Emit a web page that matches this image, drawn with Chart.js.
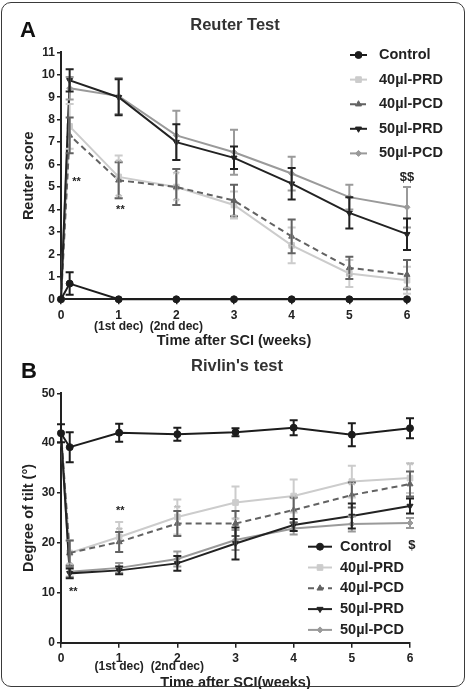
<!DOCTYPE html>
<html>
<head>
<meta charset="utf-8">
<script src="https://cdn.jsdelivr.net/npm/chart.js@4.4.1/dist/chart.umd.min.js"></script>
<style>
  html, body { margin: 0; padding: 0; background: #fff; }
  #fig { position: relative; width: 467px; height: 689px; overflow: hidden; background: #fff; }
  #fig canvas { position: absolute; left: 0; }
  #chartA { top: 0; }
  #chartB { top: 340px; }
  #frame { position: absolute; left: 1px; top: 2px; width: 462px; height: 683px;
           border: 1.5px solid #3a3a3a; border-radius: 10px; pointer-events: none; }
</style>
</head>
<body>
<div id="fig">
  <canvas id="chartA" width="467" height="350"></canvas>
  <canvas id="chartB" width="467" height="352"></canvas>
  <div id="frame"></div>
</div>
<script>
// 横軸 (週)。0.15 は損傷直後の測定
const weeks = [0, 0.15, 1, 2, 3, 4, 5, 6];
const groups = ['Control', '40µl-PRD', '40µl-PCD', '50µl-PRD', '50µl-PCD'];
const weekTicks = [0, 1, 2, 3, 4, 5, 6];
const weekNotes = ['', '(1st dec)', '(2nd dec)', '', '', '', ''];

// A: Reuter score (平均 / 誤差)
const reuterControl    = [0, 0.7, 0, 0, 0, 0, 0, 0];
const reuterControlErr = [0, 0.5, 0, 0, 0, 0, 0, 0];
const reuter40PRD      = [0, 7.7, 5.45, 5.0, 4.2, 2.4, 1.15, 0.85];
const reuter40PRDErr   = [0, 1.0, 0.95, 0.8, 0.6, 0.8, 0.6, 0.6];
const reuter40PCD      = [0, 7.3, 5.3, 5.0, 4.4, 2.8, 1.4, 1.1];
const reuter40PCDErr   = [0, 0.8, 0.8, 0.8, 0.7, 0.75, 0.5, 0.65];
const reuter50PRD      = [0, 9.75, 9.0, 7.0, 6.3, 5.15, 3.85, 2.9];
const reuter50PRDErr   = [0, 0.5, 0.8, 0.8, 0.5, 0.7, 0.7, 0.7];
const reuter50PCD      = [0, 9.4, 9.05, 7.3, 6.55, 5.6, 4.55, 4.1];
const reuter50PCDErr   = [0, 0.5, 0.8, 1.1, 1.0, 0.75, 0.55, 0.9];
const reuterTicks = [0, 11, 1];

// B: Rivlin's test (傾斜角)
const rivlinControl    = [42, 39.2, 42.1, 41.8, 42.2, 43.1, 41.7, 43.0];
const rivlinControlErr = [1.8, 3.0, 1.8, 1.3, 0.8, 1.5, 2.3, 2.0];
const rivlin40PRD      = [42, 18, 21.2, 25.2, 28.1, 29.4, 32.3, 33.0];
const rivlin40PRDErr   = [0, 2.5, 3.0, 3.5, 3.2, 3.3, 3.2, 3.0];
const rivlin40PCD      = [42, 18, 20.2, 23.9, 23.9, 26.6, 29.6, 31.8];
const rivlin40PCDErr   = [0, 2.5, 2.0, 2.5, 2.5, 2.5, 2.5, 2.5];
const rivlin50PRD      = [42, 13.9, 14.5, 15.9, 19.9, 23.6, 25.4, 27.4];
const rivlin50PRDErr   = [0, 1.0, 0.8, 1.5, 3.2, 1.2, 2.5, 1.5];
const rivlin50PCD      = [42, 14.2, 15.0, 16.8, 20.6, 22.9, 23.8, 24.0];
const rivlin50PCDErr   = [0, 1.0, 1.0, 1.5, 2.0, 1.2, 1.5, 1.0];
const rivlinTicks = [0, 50, 10];

const FONT = '"Liberation Sans", Arial, Helvetica, sans-serif';
Chart.defaults.font.family = FONT;
Chart.defaults.color = '#222';

// 系列ごとの見た目
const looks = [
    { color: '#1c1c1c', point: 'circle', radius: 3.5, order: 0 },
    { color: '#cccccc', point: 'rect', radius: 4, order: 4 },
    { color: '#626262', point: 'triangle', radius: 3.5, dash: [6, 4], order: 2 },
    { color: '#222222', point: 'triangle', rotation: 180, radius: 3.5, order: 1 },
    { color: '#9a9a9a', point: 'rectRot', radius: 3, order: 3 }
];

function buildDatasets(series, errs) {
    return series.map((vals, i) => {
        const lk = looks[i];
        return {
            label: groups[i],
            data: vals.map((v, j) => ({ x: weeks[j], y: v })),
            errors: errs[i],
            borderColor: lk.color,
            backgroundColor: lk.color,
            borderWidth: 2,
            borderDash: lk.dash || [],
            pointStyle: lk.point,
            pointRotation: lk.rotation || 0,
            pointRadius: lk.radius,
            pointBorderWidth: 1,
            tension: 0,
            clip: false,
            order: lk.order
        };
    });
}

// 誤差棒
const errorBars = {
    id: 'errorBars',
    afterDatasetsDraw(chart) {
        const { ctx, scales: { x, y } } = chart;
        const metas = chart.getSortedVisibleDatasetMetas().slice().reverse();
        metas.forEach(meta => {
            const ds = chart.data.datasets[meta.index];
            if (!ds.errors) return;
            ctx.save();
            ctx.strokeStyle = ds.borderColor;
            ctx.lineWidth = 2;
            ds.data.forEach((p, j) => {
                const e = ds.errors[j];
                if (!e) return;
                const px = x.getPixelForValue(p.x);
                const top = y.getPixelForValue(p.y + e);
                const bot = y.getPixelForValue(p.y - e);
                ctx.beginPath();
                ctx.moveTo(px, top); ctx.lineTo(px, bot);
                ctx.moveTo(px - 4, top); ctx.lineTo(px + 4, top);
                ctx.moveTo(px - 4, bot); ctx.lineTo(px + 4, bot);
                ctx.stroke();
            });
            ctx.restore();
        });
    }
};

// タイトル、パネル記号、有意差マーク、凡例
const decorations = {
    id: 'decorations',
    afterDraw(chart, args, opts) {
        const { ctx, scales: { x, y } } = chart;
        ctx.save();
        ctx.textBaseline = 'middle';

        ctx.fillStyle = '#333';
        ctx.textAlign = 'center';
        ctx.font = 'bold 16.5px ' + FONT;
        ctx.fillText(opts.title, opts.titleX, opts.titleY);

        ctx.fillStyle = '#111';
        ctx.textAlign = 'left';
        ctx.font = 'bold 22px ' + FONT;
        ctx.fillText(opts.letter, opts.letterX, opts.letterY);

        ctx.textAlign = 'center';
        opts.notes.forEach(n => {
            ctx.font = 'bold ' + (n.size || 11) + 'px ' + FONT;
            ctx.fillStyle = n.color || '#222';
            ctx.fillText(n.text, x.getPixelForValue(n.x), y.getPixelForValue(n.y));
        });

        const lg = opts.legend;
        chart.data.datasets.forEach((ds, i) => {
            const yy = lg.y + i * lg.dy;
            ctx.strokeStyle = ds.borderColor;
            ctx.fillStyle = ds.borderColor;
            ctx.lineWidth = 2;
            ctx.setLineDash(ds.borderDash || []);
            ctx.beginPath();
            ctx.moveTo(lg.x, yy);
            ctx.lineTo(lg.x + lg.len, yy);
            ctx.stroke();
            ctx.setLineDash([]);
            ctx.lineWidth = 1;
            Chart.helpers.drawPoint(ctx, {
                pointStyle: ds.pointStyle,
                rotation: ds.pointRotation,
                radius: ds.pointRadius,
                borderWidth: 1
            }, lg.x + lg.len / 2, yy);
            ctx.fillStyle = '#222';
            ctx.textAlign = 'left';
            ctx.font = 'bold 14.5px ' + FONT;
            ctx.fillText(ds.label, lg.x + lg.len + lg.gap, yy);
        });
        ctx.restore();
    }
};

function makeChart(id, cfg) {
    return new Chart(document.getElementById(id), {
        type: 'line',
        data: { datasets: buildDatasets(cfg.series, cfg.errs) },
        plugins: [errorBars, decorations],
        options: {
            responsive: false,
            animation: false,
            devicePixelRatio: 1,
            layout: { padding: { left: 0, right: cfg.padRight, top: cfg.padTop, bottom: 0 } },
            plugins: {
                legend: { display: false },
                tooltip: { enabled: false },
                title: { display: false },
                decorations: cfg.deco
            },
            scales: {
                x: {
                    type: 'linear',
                    min: 0,
                    max: 6,
                    afterBuildTicks: (s) => { s.ticks = weekTicks.map(v => ({ value: v })); },
                    afterFit: (s) => { s.height = cfg.xHeight; },
                    ticks: {
                        autoSkip: false,
                        maxRotation: 0,
                        padding: cfg.xTickPad,
                        color: '#222',
                        font: { size: 12, weight: 'bold', lineHeight: cfg.xLineHeight },
                        callback: (v) => weekNotes[v] ? [String(v), weekNotes[v]] : String(v)
                    },
                    grid: { drawOnChartArea: false, drawTicks: true, tickLength: 5, color: '#222', lineWidth: 1.5 },
                    border: { display: true, color: '#222', width: 2 },
                    title: {
                        display: true,
                        text: cfg.xTitle,
                        color: '#222',
                        font: { size: 14.5, weight: 'bold' },
                        padding: { top: 0, bottom: 0 }
                    }
                },
                y: {
                    min: cfg.yTicks[0],
                    max: cfg.yTicks[1],
                    afterFit: (s) => { s.width = 61; },
                    ticks: {
                        stepSize: cfg.yTicks[2],
                        padding: 2,
                        color: '#222',
                        font: { size: 12, weight: 'bold' }
                    },
                    grid: { drawOnChartArea: false, drawTicks: true, tickLength: 4, color: '#222', lineWidth: 1.5 },
                    border: { display: true, color: '#222', width: 2 },
                    title: {
                        display: true,
                        text: cfg.yTitle,
                        color: '#222',
                        font: { size: 14.5, weight: 'bold' },
                        padding: { top: 20, bottom: 0 }
                    }
                }
            }
        }
    });
}

makeChart('chartA', {
    padTop: 52.3,
    padRight: 60,
    xHeight: 50.7,
    xTickPad: 6,
    xLineHeight: '11px',
    xTitle: 'Time after SCI (weeks)',
    yTitle: 'Reuter score',
    yTicks: reuterTicks,
    series: [reuterControl, reuter40PRD, reuter40PCD, reuter50PRD, reuter50PCD],
    errs: [reuterControlErr, reuter40PRDErr, reuter40PCDErr, reuter50PRDErr, reuter50PCDErr],
    deco: {
        title: 'Reuter Test', titleX: 235, titleY: 25,
        letter: 'A', letterX: 20, letterY: 31,
        legend: { x: 350, y: 55, dy: 24.6, len: 17, gap: 12 },
        notes: [
            { text: '**', x: 0.27, y: 5.24 },
            { text: '**', x: 1.03, y: 3.98 },
            { text: '$$', x: 6.0, y: 5.45, size: 13 },
            { text: '**', x: 1, y: 6.1, color: '#bdbdbd', size: 9 },
            { text: '**', x: 1, y: 4.55, color: '#bdbdbd', size: 9 },
            { text: '**', x: 2, y: 5.55, color: '#bdbdbd', size: 9 },
            { text: '**', x: 2, y: 4.35, color: '#bdbdbd', size: 9 },
            { text: '**', x: 3, y: 3.65, color: '#bdbdbd', size: 9 },
            { text: '**', x: 4, y: 2.3, color: '#bdbdbd', size: 9 },
            { text: '**', x: 5, y: 1.0, color: '#bdbdbd', size: 9 },
            { text: '**', x: 6, y: 0.45, color: '#bdbdbd', size: 9 }
        ]
    }
});

makeChart('chartB', {
    padTop: 53.3,
    padRight: 57,
    xHeight: 49.3,
    xTickPad: 6.3,
    xLineHeight: '8.5px',
    xTitle: 'Time after SCI(weeks)',
    yTitle: 'Degree of tilt (°)',
    yTicks: rivlinTicks,
    series: [rivlinControl, rivlin40PRD, rivlin40PCD, rivlin50PRD, rivlin50PCD],
    errs: [rivlinControlErr, rivlin40PRDErr, rivlin40PCDErr, rivlin50PRDErr, rivlin50PCDErr],
    deco: {
        title: "Rivlin's test", titleX: 237, titleY: 26.3,
        letter: 'B', letterX: 21, letterY: 31.7,
        legend: { x: 308, y: 206.7, dy: 20.8, len: 24, gap: 8 },
        notes: [
            { text: '**', x: 1.02, y: 26.5 },
            { text: '**', x: 0.21, y: 10.2 },
            { text: '$', x: 6.03, y: 19.5, size: 13 },
            { text: '**', x: 1, y: 22.5, color: '#bdbdbd', size: 9 },
            { text: '**', x: 2, y: 27.0, color: '#bdbdbd', size: 9 },
            { text: '**', x: 3, y: 24.5, color: '#bdbdbd', size: 9 },
            { text: '**', x: 4, y: 29.0, color: '#bdbdbd', size: 9 },
            { text: '**', x: 5, y: 31.5, color: '#bdbdbd', size: 9 },
            { text: '**', x: 6, y: 35.5, color: '#bdbdbd', size: 9 },
            { text: '**', x: 0.15, y: 15.5, color: '#bdbdbd', size: 9 }
        ]
    }
});
</script>
</body>
</html>
